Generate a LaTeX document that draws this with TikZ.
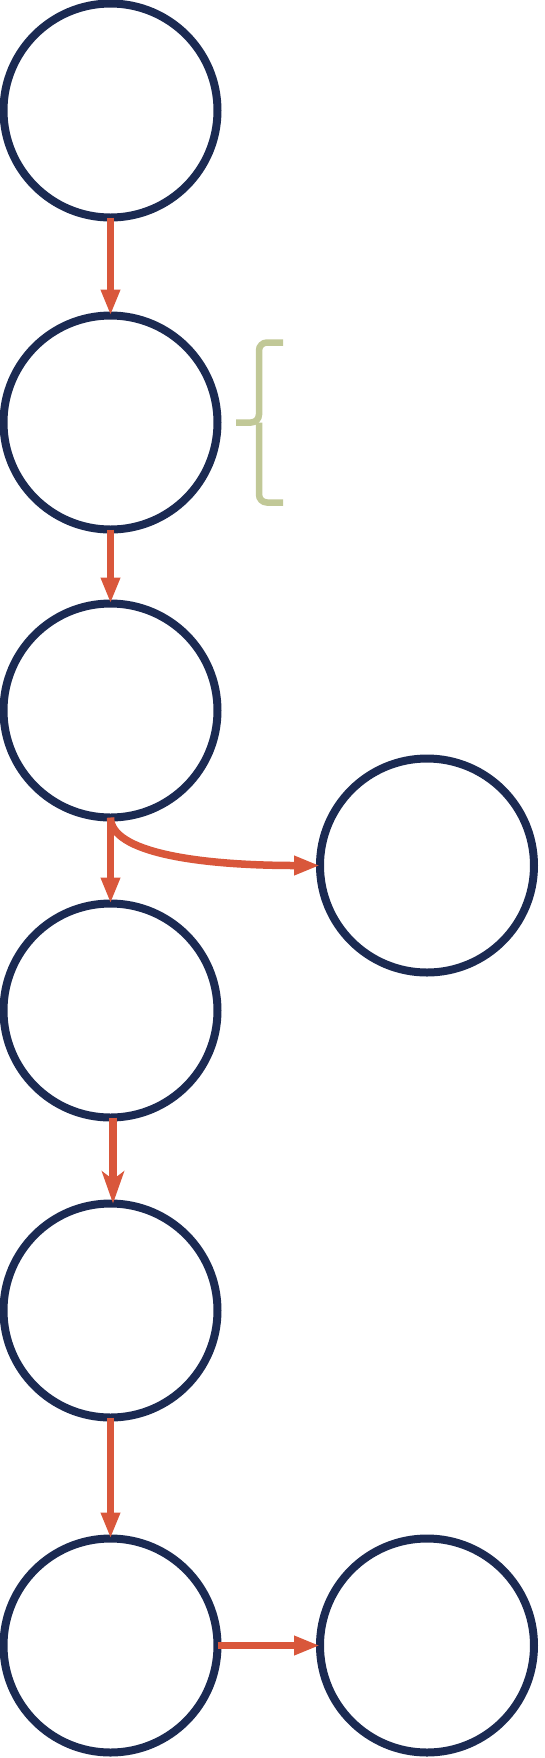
\documentclass[tikz,border=0pt]{standalone}
\usepackage{tikz}
\usetikzlibrary{arrows.meta}
\usetikzlibrary{positioning}
\definecolor{ringblue}{HTML}{1B2A52}
\definecolor{flowred}{HTML}{D9573B}
\definecolor{bracegreen}{HTML}{C1C897}
\tikzset{
	ring/.style={
		circle,
		draw=ringblue,
		line width=4pt,
		minimum size=107pt,
		inner sep=0pt,
		outer sep=0pt,
	},
	bracket/.style={
		-,
		draw=bracegreen,
		line width=3.25pt,
		rounded corners=4pt,
	},
}
\begin{document}
\begin{tikzpicture}[->,>={Triangle[length=13pt,width=9pt]},every edge/.style={draw=flowred,line width=3.75pt}]
	\useasboundingbox (-55.25pt,55.25pt) rectangle (217.25pt,-823.75pt);
	
	\node[ring] (ONE) at (0,0) {};
	
	\node[ring,
	below=102.5pt of ONE,
	anchor=center] (TWO) {};
	
	\node[ring,
	below=90.5pt of TWO,
	anchor=center] (THREE) {};
	
	\node[ring,
	below right=39.67pt and 120.42pt of THREE,
	anchor=center] (SIDE) {};
	
	\node[ring,
	below=96.5pt of THREE,
	anchor=center] (FOUR) {};
	
	\node[ring,
	below=96.5pt of FOUR,
	anchor=center] (FIVE) {};
	
	\node[ring,
	below=114pt of FIVE,
	anchor=center] (SIX) {};
	
	\node[ring,
	right=104.75pt of SIX,
	anchor=center] (END) {};
	
	% brace beside the second ring
	\draw[bracket] ([shift={(32.75pt,40pt)}]TWO.east) -- ++(-12pt,0) -- ++(0,-40pt) -- ++(-11.5pt,0);
	\draw[bracket] ([shift={(32.75pt,-40pt)}]TWO.east) -- ++(-12pt,0) -- ++(0,40pt);
	
	\path
	(ONE) edge (TWO)
	(TWO) edge (THREE)
	(THREE) edge (FOUR)
	(THREE) edge[out=-90, in=180, out looseness=0.42, in looseness=1.43] (SIDE)
	([xshift=1.25pt]FOUR.south) edge[-{Stealth[length=16pt,width=11pt,inset=4pt]}] ([xshift=1.25pt]FIVE.north)
	(FIVE) edge (SIX)
	(SIX) edge (END);
	
\end{tikzpicture}
\end{document}
